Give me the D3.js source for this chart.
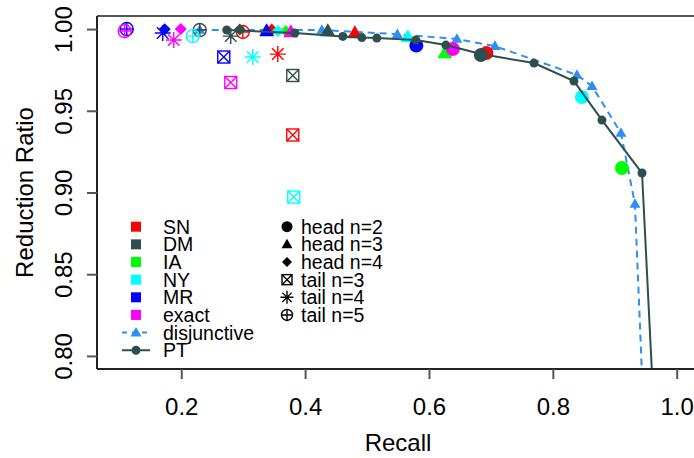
<!DOCTYPE html>
<html>
<head>
<meta charset="utf-8">
<script src="https://cdn.jsdelivr.net/npm/d3@7"></script>
<style>
  body { margin: 0; background: #fff; }
  svg { display: block; font-family: "Liberation Sans", Arial, sans-serif; }
</style>
</head>
<body>
<script>
// ---- data ----
var methods = ["SN", "DM", "IA", "NY", "MR", "exact"];
var variants = ["head n=2", "head n=3", "head n=4", "tail n=3", "tail n=4", "tail n=5"];

// recall / reduction ratio per method, in the order of `variants` (null = not plotted)
var snRecall    = [0.6927, 0.4803, 0.3462, 0.3801, 0.3559, 0.2994];
var snRR        = [0.9853, 0.9976, 0.9998, 0.9352, 0.9847, 0.9982];
var dmRecall    = [0.6838, 0.4367, 0.2945, 0.3801, 0.2800, 0.2299];
var dmRR        = [0.9841, 0.9988, 0.9997, 0.9716, 0.9957, 0.9994];
var iaRecall    = [0.9116, 0.6257, 0.3688, null, null, null];
var iaRR        = [0.9150, 0.9853, 0.9988, null, null, null];
var nyRecall    = [0.8470, 0.5659, 0.3559, 0.3817, 0.3155, 0.2186];
var nyRR        = [0.9584, 0.9951, 0.9988, 0.8972, 0.9829, 0.9957];
var mrRecall    = [0.5796, 0.3381, 0.1733, 0.2687, 0.1701, 0.1120];
var mrRR        = [0.9899, 0.9988, 0.9999, 0.9829, 0.9976, 1.0000];
var exactRecall = [0.6386, 0.3769, 0.1992, 0.2800, 0.1879, 0.1087];
var exactRR     = [0.9878, 0.9982, 1.0000, 0.9673, 0.9933, 0.9988];

// the two curves
var disjRecall = [0.2299, 0.3365, 0.4270, 0.5490, 0.6451, 0.7065, 0.8390, 0.8632, 0.9100, 0.9326, 0.9644];
var disjRR     = [0.9994, 0.9994, 0.9994, 0.9969, 0.9939, 0.9896, 0.9719, 0.9651, 0.9364, 0.8930, 0.6000];
var ptRecall   = [0.2735, 0.3834, 0.4609, 0.4916, 0.5158, 0.5788, 0.6273, 0.6838, 0.7695, 0.8341, 0.8793, 0.9440, 0.9850];
var ptRR       = [0.9994, 0.9976, 0.9955, 0.9948, 0.9945, 0.9933, 0.9902, 0.9847, 0.9792, 0.9682, 0.9443, 0.9119, 0.6000];

var xTicks = [0.2, 0.4, 0.6, 0.8, 1.0];
var yTicks = [0.80, 0.85, 0.90, 0.95, 1.00];

// ---- styles ----
var colors = ["#ff0000", "#2f4f4f", "#00ff00", "#00ffff", "#0000ff", "#ff00ff"];
var shapes = ["circle", "triangle", "diamond", "boxx", "star", "oplus"];
var disjColor = "#2f8ff0", ptColor = "#2f4f4f";

function drawChart() {
    var allRecall = [snRecall, dmRecall, iaRecall, nyRecall, mrRecall, exactRecall];
    var allRR = [snRR, dmRR, iaRR, nyRR, mrRR, exactRR];

    var width = 694, height = 458;
    var pLeft = 97, pTop = 16, pBottom = 369, pRight = 699;

    // R style: xlim 0.1..1, ylim 0.8..1 with 4% padding
    var xScale = d3.scaleLinear().domain([0.064, 1.036]).range([pLeft, pRight]);
    var yScale = d3.scaleLinear().domain([0.792, 1.008]).range([pBottom, pTop]);

    var svg = d3.select("body").append("svg")
        .attr("width", width)
        .attr("height", height);

    svg.append("clipPath").attr("id", "plotclip")
      .append("rect")
        .attr("x", pLeft).attr("y", pTop)
        .attr("width", pRight - pLeft).attr("height", pBottom - pTop);

    function drawMarker(g, shape, x, y, color, big) {
        var s;
        if (shape == "circle") {
            g.append("circle").attr("cx", x).attr("cy", y)
                .attr("r", big ? 7 : 5.5).attr("fill", color);
        } else if (shape == "triangle") {
            s = big ? 15 : 11;
            var h = s * Math.sqrt(3) / 2;
            g.append("path")
                .attr("d", "M" + x + "," + (y - h * 0.6) + "L" + (x + s / 2) + "," + (y + h * 0.4) +
                           "L" + (x - s / 2) + "," + (y + h * 0.4) + "Z")
                .attr("fill", color);
        } else if (shape == "diamond") {
            s = big ? 6 : 5;
            g.append("path")
                .attr("d", "M" + x + "," + (y - s) + "L" + (x + s) + "," + y + "L" + x + "," + (y + s) +
                           "L" + (x - s) + "," + y + "Z")
                .attr("fill", color);
        } else if (shape == "boxx") {
            s = big ? 6 : 5;
            var b = g.append("g").attr("stroke", color).attr("stroke-width", 1.4).attr("fill", "none");
            b.append("rect").attr("x", x - s).attr("y", y - s).attr("width", 2 * s).attr("height", 2 * s);
            b.append("path").attr("d", "M" + (x - s) + "," + (y - s) + "L" + (x + s) + "," + (y + s) +
                                       "M" + (x + s) + "," + (y - s) + "L" + (x - s) + "," + (y + s));
        } else if (shape == "star") {
            s = big ? 8 : 6.5;
            var d = s * 0.72;
            g.append("path")
                .attr("d", "M" + (x - s) + "," + y + "L" + (x + s) + "," + y +
                           "M" + x + "," + (y - s) + "L" + x + "," + (y + s) +
                           "M" + (x - d) + "," + (y - d) + "L" + (x + d) + "," + (y + d) +
                           "M" + (x + d) + "," + (y - d) + "L" + (x - d) + "," + (y + d))
                .attr("stroke", color).attr("stroke-width", 1.4).attr("fill", "none");
        } else if (shape == "oplus") {
            s = big ? 6.5 : 5.5;
            var o = g.append("g").attr("stroke", color).attr("stroke-width", 1.4).attr("fill", "none");
            o.append("circle").attr("cx", x).attr("cy", y).attr("r", s);
            o.append("path").attr("d", "M" + (x - s) + "," + y + "L" + (x + s) + "," + y +
                                       "M" + x + "," + (y - s) + "L" + x + "," + (y + s));
        }
    }

    var plot = svg.append("g").attr("clip-path", "url(#plotclip)");

    var line = d3.line()
        .x(function(d) { return xScale(d[0]); })
        .y(function(d) { return yScale(d[1]); });

    var disjPts = disjRecall.map(function(r, i) { return [r, disjRR[i]]; });
    var ptPts = ptRecall.map(function(r, i) { return [r, ptRR[i]]; });

    // disjunctive curve
    plot.append("path")
        .attr("d", line(disjPts))
        .attr("fill", "none")
        .attr("stroke", disjColor)
        .attr("stroke-width", 2)
        .attr("stroke-dasharray", "7,5");
    disjPts.forEach(function(p) {
        drawMarker(plot, "triangle", xScale(p[0]), yScale(p[1]), disjColor, false);
    });

    // method markers
    for (var m = 0; m < methods.length; m++) {
        for (var v = 0; v < variants.length; v++) {
            if (allRecall[m][v] == null) continue;
            drawMarker(plot, shapes[v], xScale(allRecall[m][v]), yScale(allRR[m][v]), colors[m], true);
        }
    }

    // PT curve on top
    plot.append("path")
        .attr("d", line(ptPts))
        .attr("fill", "none")
        .attr("stroke", ptColor)
        .attr("stroke-width", 2);
    ptPts.forEach(function(p) {
        plot.append("circle").attr("cx", xScale(p[0])).attr("cy", yScale(p[1]))
            .attr("r", 4.5).attr("fill", ptColor);
    });

    // box / axes, R look
    svg.append("line").attr("x1", pLeft).attr("x2", pRight).attr("y1", pTop).attr("y2", pTop)
        .attr("stroke", "#555").attr("stroke-width", 2);
    svg.append("line").attr("x1", pLeft).attr("x2", pLeft).attr("y1", pTop).attr("y2", pBottom)
        .attr("stroke", "#222").attr("stroke-width", 2);
    svg.append("line").attr("x1", pLeft).attr("x2", pRight).attr("y1", pBottom).attr("y2", pBottom)
        .attr("stroke", "#222").attr("stroke-width", 2);

    var xAxis = d3.axisBottom(xScale).tickValues(xTicks).tickSize(10).tickPadding(19)
        .tickFormat(d3.format(".1f"));
    var gx = svg.append("g").attr("transform", "translate(0," + pBottom + ")").call(xAxis);
    gx.select(".domain").remove();
    gx.selectAll(".tick line").attr("stroke", "#555").attr("stroke-width", 2);
    gx.selectAll(".tick text").attr("font-size", 24).attr("fill", "#000")
        .attr("font-family", "Liberation Sans, Arial, sans-serif");

    var yAxis = d3.axisLeft(yScale).tickValues(yTicks).tickSize(10)
        .tickFormat(d3.format(".2f"));
    var gy = svg.append("g").attr("transform", "translate(" + pLeft + ",0)").call(yAxis);
    gy.select(".domain").remove();
    gy.selectAll(".tick line").attr("stroke", "#555").attr("stroke-width", 2);
    gy.selectAll(".tick text")
        .attr("font-size", 24).attr("fill", "#000")
        .attr("font-family", "Liberation Sans, Arial, sans-serif")
        .attr("x", null).attr("dy", null)
        .attr("text-anchor", "middle")
        .attr("transform", "translate(-25,0) rotate(-90)");

    svg.append("text")
        .attr("x", 398).attr("y", 451)
        .attr("text-anchor", "middle").attr("font-size", 24)
        .text("Recall");

    svg.append("text")
        .attr("transform", "translate(33," + ((pTop + pBottom) / 2) + ") rotate(-90)")
        .attr("text-anchor", "middle").attr("font-size", 24)
        .text("Reduction Ratio");

    // legend
    var legY0 = 226.7, legStep = 17.65;
    var leg = svg.append("g").attr("font-size", 19.5);

    methods.forEach(function(name, i) {
        var y = legY0 + i * legStep;
        leg.append("rect").attr("x", 131).attr("y", y - 5).attr("width", 10).attr("height", 10)
            .attr("fill", colors[i]);
        leg.append("text").attr("x", 163).attr("y", y).attr("dy", "0.36em").text(name);
    });

    var yD = legY0 + 6 * legStep, yP = legY0 + 7 * legStep;
    leg.append("line").attr("x1", 122).attr("x2", 149).attr("y1", yD).attr("y2", yD)
        .attr("stroke", disjColor).attr("stroke-width", 2).attr("stroke-dasharray", "5,5");
    drawMarker(leg, "triangle", 136, yD, disjColor, false);
    leg.append("text").attr("x", 163).attr("y", yD).attr("dy", "0.36em").text("disjunctive");

    leg.append("line").attr("x1", 122).attr("x2", 150).attr("y1", yP).attr("y2", yP)
        .attr("stroke", ptColor).attr("stroke-width", 2);
    leg.append("circle").attr("cx", 136).attr("cy", yP).attr("r", 4.5).attr("fill", ptColor);
    leg.append("text").attr("x", 163).attr("y", yP).attr("dy", "0.36em").text("PT");

    variants.forEach(function(name, i) {
        var y = legY0 + i * legStep;
        drawMarker(leg, shapes[i], 287, y, "#000", false);
        leg.append("text").attr("x", 301).attr("y", y).attr("dy", "0.36em").text(name);
    });
}

drawChart();
</script>
</body>
</html>
